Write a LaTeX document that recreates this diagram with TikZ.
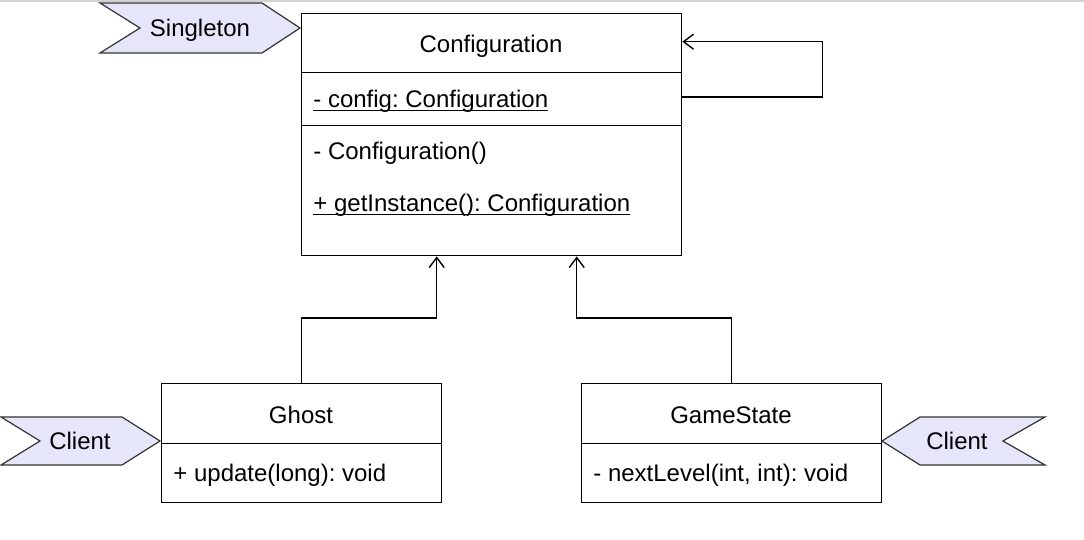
\documentclass[tikz,border=0pt]{standalone}
\usepackage{fontspec}
\setmainfont{Liberation Sans}
\usetikzlibrary{arrows.meta,calc}
\definecolor{tagfill}{HTML}{E6E6FA}
\definecolor{tagline}{HTML}{333333}
\newcommand{\umlul}[1]{\underline{\smash{#1}}}
\tikzset{
  umlbox/.style={draw=black, line width=0.7pt, fill=white, inner sep=0pt, anchor=north west},
  member/.style={anchor=base west, inner sep=0pt, font=\fontsize{12}{14}\selectfont\frenchspacing},
  title/.style={anchor=base, inner sep=0pt, font=\fontsize{12}{14}\selectfont},
  tag/.style={draw=tagline, fill=tagfill, line width=0.6pt, line join=miter},
  rel/.style={draw=black, line width=0.7pt, -{Straight Barb[length=5pt,width=7.5pt,line width=0.7pt]}}
}
\begin{document}
\begin{tikzpicture}[x=0.5pt,y=-0.5pt]
\useasboundingbox (0,0) rectangle (1084,540);
\fill[black!18] (0,0) rectangle (1084,2);
% Configuration class
\node[umlbox, minimum width=190pt, minimum height=29.5pt] (cfgh) at (301,13) {};
\node[umlbox, minimum width=190pt, minimum height=26.5pt] (cfga) at (301,72) {};
\node[umlbox, minimum width=190pt, minimum height=65pt] (cfgm) at (301,125) {};
\node[title] (c0) at (491,53) {Configuration};
\node[member] (a1) at (313,108) {\umlul{- config: Configuration}};
\node[member] (m1) at (313,160) {- Configuration()};
\node[member] (m2) at (313,212) {\umlul{+ getInstance(): Configuration}};
% Ghost
\node[umlbox, minimum width=140pt, minimum height=30pt] (gh) at (161,383) {};
\node[umlbox, minimum width=140pt, minimum height=29.5pt] (gb) at (161,443) {};
\node[title] (g0) at (301,423) {Ghost};
\node[member] (g1) at (173,481) {+ update(long): void};
% GameState
\node[umlbox, minimum width=150pt, minimum height=30pt] (sh) at (581,383) {};
\node[umlbox, minimum width=150pt, minimum height=29.5pt] (sb) at (581,443) {};
\node[title] (s0) at (731,423) {GameState};
\node[member] (s1) at (593,481) {- nextLevel(int, int): void};
% relations
\draw[rel] ([yshift=1pt]cfga.east) -- ++(140,0) |- ([yshift=0.75pt]cfgh.east);
\draw[rel] (gh.north) -- ++(0,-65) -| ([xshift=-27.5pt]cfgm.south);
\draw[rel] (sh.north) -- ++(0,-65) -| ([xshift=42.5pt]cfgm.south);
% tags
\draw[tag] (100,3) -- (262,3) -- (300,28) -- (262,53) -- (100,53) -- (140,28) -- cycle;
\node[title] (t1) at (200,37) {Singleton};
\draw[tag] (1,417) -- (122,417) -- (160,441) -- (122,465) -- (1,465) -- (40,441) -- cycle;
\node[title] (t2) at (80,450) {Client};
\draw[tag] (882,441) -- (920,417) -- (1045,417) -- (1003,441) -- (1045,465) -- (920,465) -- cycle;
\node[title] (t3) at (957,450) {Client};
\end{tikzpicture}
\end{document}
